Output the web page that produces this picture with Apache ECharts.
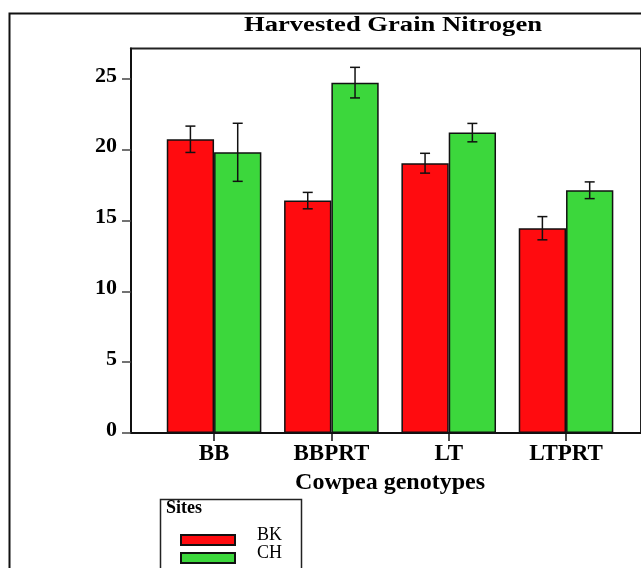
<!DOCTYPE html>
<html>
<head>
<meta charset="utf-8">
<script src="https://cdn.jsdelivr.net/npm/echarts@6/dist/echarts.min.js"></script>
<style>
html,body{margin:0;padding:0;background:#fff;}
#chart{width:641px;height:568px;}
</style>
</head>
<body>
<div id="chart"></div>
<script>
// ---- data ----
const categories = ['BB', 'BBPRT', 'LT', 'LTPRT'];
const seriesNames = ['BK', 'CH'];
const bkMeans = [20.74, 16.41, 19.05, 14.46];
const chMeans = [19.82, 24.74, 21.21, 17.14];
const bkErrors = [0.93, 0.58, 0.70, 0.82];
const chErrors = [2.05, 1.08, 0.65, 0.59];
const yTicks = [0, 5, 10, 15, 20, 25];
const titleText = 'Harvested Grain Nitrogen';
const xAxisTitle = 'Cowpea genotypes';
const legendTitle = 'Sites';

// ---- style ----
const SERIF = '"Liberation Serif", "Times New Roman", serif';
const BAR_W = 47.3;
const Y_MAX = 27.15;
const RED = '#FF0B0F';
const GREEN = '#3CD73C';
// legend swatch drawn in the lower half of a 54x20 box (text sits slightly above swatch centre)
const LEGEND_ICON = 'path://M0,0L0,0M0,10L54,10L54,20L0,20Z';

const chart = echarts.init(document.getElementById('chart'), null, {renderer: 'canvas'});

function errorSeries(name, means, errs, sign) {
  return {
    type: 'custom',
    name: name + ' error',
    xAxisIndex: 1,
    yAxisIndex: 1,
    silent: true,
    z: 10,
    clip: false,
    data: means.map((m, i) => [i, m - errs[i], m + errs[i]]),
    renderItem: function (params, api) {
      const xi = api.value(0);
      const lo = api.coord([xi, api.value(1)]);
      const hi = api.coord([xi, api.value(2)]);
      const cx = lo[0] + sign * BAR_W / 2;
      const cap = 5;
      const st = {stroke: '#111', lineWidth: 1.5};
      return {
        type: 'group',
        children: [
          {type: 'line', shape: {x1: cx, y1: lo[1], x2: cx, y2: hi[1]}, style: st},
          {type: 'line', shape: {x1: cx - cap, y1: lo[1], x2: cx + cap, y2: lo[1]}, style: st},
          {type: 'line', shape: {x1: cx - cap, y1: hi[1], x2: cx + cap, y2: hi[1]}, style: st}
        ]
      };
    }
  };
}

const option = {
  backgroundColor: '#fff',
  animation: false,
  graphic: [
    {type: 'rect', shape: {x: 9.5, y: 13.5, width: 800, height: 800},
     style: {fill: 'none', stroke: '#111', lineWidth: 2}, z: 100},
    {type: 'text', x: 393, y: 26, scaleX: 1.33,
     style: {text: titleText, font: 'bold 20px ' + SERIF, fill: '#000',
             align: 'center', verticalAlign: 'middle'}, z: 100},
    {type: 'rect', shape: {x: 160.5, y: 499.5, width: 141, height: 200},
     style: {fill: 'none', stroke: '#222', lineWidth: 1.5}, z: 100},
    {type: 'text', x: 166, y: 508,
     style: {text: legendTitle, font: 'bold 18px ' + SERIF, fill: '#000',
             align: 'left', verticalAlign: 'middle'}, z: 100}
  ],
  legend: {
    data: seriesNames,
    orient: 'vertical',
    left: 180,
    top: 524,
    padding: 0,
    itemWidth: 54,
    itemHeight: 20,
    itemGap: -4,
    icon: LEGEND_ICON,
    selectedMode: false,
    textStyle: {fontFamily: SERIF, fontSize: 18, color: '#000', padding: [0, 0, 0, 17]}
  },
  grid: [
    {left: 131, right: -20, top: 48.5, bottom: 135, show: true,
     borderColor: '#222', borderWidth: 2, backgroundColor: 'transparent'},
    {left: 155.4, right: 16.3, top: 48.5, bottom: 135}
  ],
  xAxis: [
    {type: 'value', gridIndex: 0, min: 0, max: 1,
     axisLine: {show: true, lineStyle: {color: '#111', width: 2}},
     axisTick: {show: false}, axisLabel: {show: false}, splitLine: {show: false}},
    {type: 'category', gridIndex: 1, data: categories,
     name: xAxisTitle, nameLocation: 'middle', nameGap: 38,
     nameTextStyle: {fontFamily: SERIF, fontWeight: 'bold', fontSize: 24, color: '#000'},
     axisLine: {show: false},
     axisTick: {show: true, alignWithLabel: true, length: 8, lineStyle: {color: '#111', width: 1.5}},
     axisLabel: {margin: 10, fontFamily: SERIF, fontWeight: 'bold', fontSize: 23, color: '#000'},
     splitLine: {show: false}}
  ],
  yAxis: [
    {type: 'value', gridIndex: 0, min: 0, max: Y_MAX,
     axisLine: {show: true, lineStyle: {color: '#111', width: 2}},
     axisTick: {show: true, length: 9, customValues: yTicks, lineStyle: {color: '#444', width: 1.5}},
     axisLabel: {customValues: yTicks, margin: 14, fontFamily: SERIF, fontWeight: 'bold',
                 fontSize: 22, color: '#000', verticalAlign: 'bottom', lineHeight: 6},
     splitLine: {show: false}},
    {type: 'value', gridIndex: 1, min: 0, max: Y_MAX, show: false, splitLine: {show: false}}
  ],
  series: [
    {type: 'bar', name: seriesNames[0], xAxisIndex: 1, yAxisIndex: 1, data: bkMeans,
     barWidth: BAR_W, barGap: '0%',
     itemStyle: {color: RED, borderColor: '#111', borderWidth: 1.5}},
    {type: 'bar', name: seriesNames[1], xAxisIndex: 1, yAxisIndex: 1, data: chMeans,
     barWidth: BAR_W, barGap: '0%',
     itemStyle: {color: GREEN, borderColor: '#111', borderWidth: 1.5}},
    errorSeries(seriesNames[0], bkMeans, bkErrors, -1),
    errorSeries(seriesNames[1], chMeans, chErrors, 1)
  ]
};
chart.setOption(option);
</script>
</body>
</html>
